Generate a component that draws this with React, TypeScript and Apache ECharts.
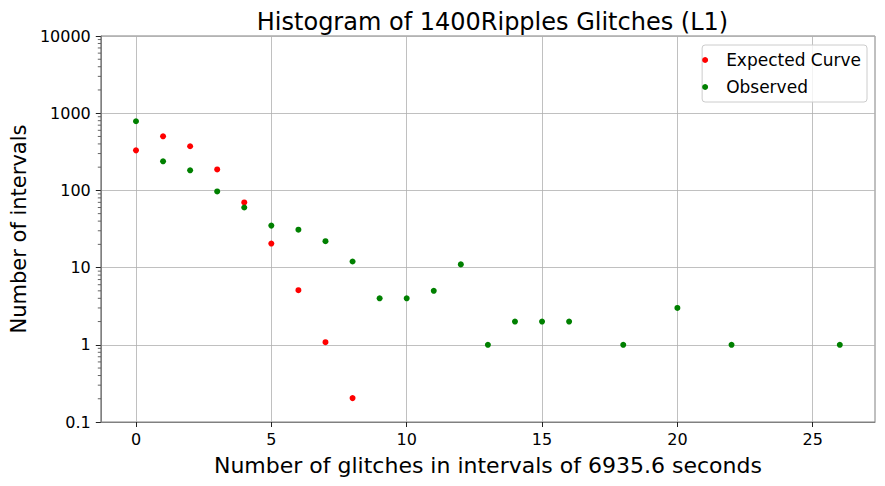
import React, { useEffect, useRef } from "react";
import * as echarts from "echarts";

const titleText = "Histogram of 1400Ripples Glitches (L1)";
const xAxisName = "Number of glitches in intervals of 6935.6 seconds";
const yAxisName = "Number of intervals";

const expectedX = [0, 1, 2, 3, 4, 5, 6, 7, 8];
const expectedY = [330, 502, 373, 187, 69.8, 20.5, 5.1, 1.08, 0.204];

const observedX = [0, 1, 2, 3, 4, 5, 6, 7, 8, 9, 10, 11, 12, 13, 14, 15, 16, 18, 20, 22, 26];
const observedY = [787, 238, 182, 97, 60, 35, 31, 22, 12, 4, 4, 5, 11, 1, 2, 2, 2, 1, 3, 1, 1];

const xTicks = [0, 5, 10, 15, 20, 25];
const xMin = -1.3;
const xMax = 27.3;
const yMin = 0.1;
const yMax = 10000;

const minorYTicks: number[] = [];
for (let d = 0.1; d < 10000; d *= 10) {
  for (let k = 2; k <= 9; k++) minorYTicks.push(+(d * k).toPrecision(3));
}

const FONT = "DejaVu Sans";

export default function App() {
  const ref = useRef<HTMLDivElement>(null);
  useEffect(() => {
    if (!ref.current) return;
    const chart = echarts.init(ref.current, null, { renderer: "svg" });
    chart.setOption({
      animation: false,
      backgroundColor: "#ffffff",
      title: {
        text: titleText,
        left: 487.5,
        textAlign: "center",
        top: 5,
        textStyle: { fontFamily: FONT, fontSize: 24, fontWeight: "normal", color: "#000" },
      },
      grid: {
        left: 100,
        top: 36,
        width: 775,
        height: 386,
        show: true,
        borderColor: "#808080",
        borderWidth: 1,
        backgroundColor: "transparent",
      },
      legend: {
        data: [
          { name: "Expected Curve", icon: "circle" },
          { name: "Observed", icon: "circle" },
        ],
        orient: "vertical",
        right: 18,
        top: 45,
        itemWidth: 32,
        itemHeight: 6,
        itemGap: 9,
        padding: [6, 6, 6, 0],
        backgroundColor: "rgba(255,255,255,0.8)",
        borderColor: "#cccccc",
        borderWidth: 1,
        borderRadius: 3,
        textStyle: {
          fontFamily: FONT,
          fontSize: 17,
          color: "#000",
          lineHeight: 18,
        },
      },
      xAxis: {
        type: "value",
        min: xMin,
        max: xMax,
        name: xAxisName,
        nameLocation: "middle",
        nameGap: 32,
        nameTextStyle: { fontFamily: FONT, fontSize: 22, color: "#000" },
        axisLine: { show: true, onZero: false, lineStyle: { color: "#808080", width: 1 } },
        axisTick: {
          show: true,
          length: 5,
          customValues: xTicks,
          lineStyle: { color: "#222", width: 1 },
        },
        axisLabel: {
          customValues: xTicks,
          fontFamily: FONT,
          fontSize: 16,
          color: "#000",
          margin: 9,
        },
        splitLine: { show: true, lineStyle: { color: "#b0b0b0", width: 0.8 } },
      },
      yAxis: {
        type: "log",
        logBase: 10,
        min: yMin,
        max: yMax,
        name: yAxisName,
        nameLocation: "middle",
        nameGap: 71,
        nameTextStyle: { fontFamily: FONT, fontSize: 21, color: "#000" },
        axisLine: { show: true, onZero: false, lineStyle: { color: "#808080", width: 1 } },
        axisTick: { show: true, length: 5, lineStyle: { color: "#222", width: 1 } },
        axisLabel: {
          fontFamily: FONT,
          fontSize: 16,
          color: "#000",
          margin: 10,
          formatter: (v: number) => (v < 1 ? v.toFixed(1) : String(Math.round(v))),
        },
        splitLine: { show: true, lineStyle: { color: "#b0b0b0", width: 0.8 } },
      },
      series: [
        {
          type: "custom",
          name: "minorTicks",
          silent: true,
          clip: false,
          data: minorYTicks.map((v) => [xMin, v]),
          renderItem: (_params: any, api: any) => {
            const p = api.coord([api.value(0), api.value(1)]);
            return {
              type: "line",
              shape: { x1: p[0] - 3, y1: p[1], x2: p[0], y2: p[1] },
              style: { stroke: "#222", lineWidth: 0.7 },
            };
          },
          z: 5,
        },
        {
          name: "Expected Curve",
          type: "scatter",
          data: expectedX.map((x, i) => [x, expectedY[i]]),
          symbol: "circle",
          symbolSize: 6,
          itemStyle: { color: "#ff0000", opacity: 1 },
          z: 3,
        },
        {
          name: "Observed",
          type: "scatter",
          data: observedX.map((x, i) => [x, observedY[i]]),
          symbol: "circle",
          symbolSize: 6,
          itemStyle: { color: "#008000", opacity: 1 },
          z: 4,
        },
      ],
    });
    return () => chart.dispose();
  }, []);
  return (
    <div
      ref={ref}
      style={{ position: "absolute", left: 0, top: 0, width: 885, height: 486, background: "#fff" }}
    />
  );
}
